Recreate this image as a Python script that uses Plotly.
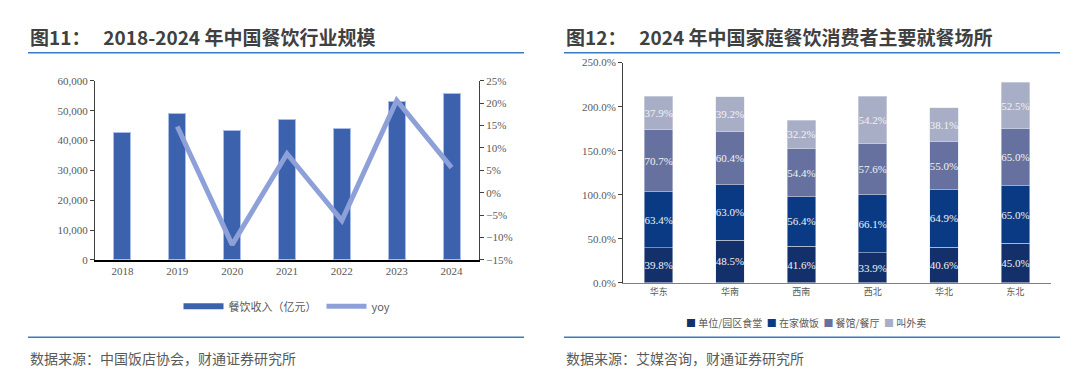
import plotly.graph_objects as go

W, H = 1080, 376

# ---- Data: left chart ----
years = ["2018", "2019", "2020", "2021", "2022", "2023", "2024"]
revenue = [42700, 49000, 43200, 46900, 43900, 52900, 55700]
yoy = [None, 14.8, -11.6, 8.7, -6.2, 20.6, 5.6]

# ---- Data: right chart ----
regions = ["华东", "华南", "西南", "西北", "华北", "东北"]
canteen = [39.8, 48.5, 41.6, 33.9, 40.6, 45.0]
home = [63.4, 63.0, 56.4, 66.1, 64.9, 65.0]
restaurant = [70.7, 60.4, 54.4, 57.6, 55.0, 65.0]
takeout = [37.9, 39.2, 32.2, 54.2, 38.1, 52.5]
series_names = ["单位/园区食堂", "在家做饭", "餐馆/餐厅", "叫外卖"]
series_colors = ["#13306a", "#0a3a84", "#66719f", "#a8aec6"]

SERIF = "Liberation Serif"
CJK = "Noto Sans CJK SC"
TICKC = "#595959"

def px(x):
    return x / W

def py(y):
    return 1 - y / H

fig = go.Figure()

# Left chart
fig.add_trace(go.Bar(
    x=years, y=revenue, name="餐饮收入（亿元）", marker=dict(color="#3c62ae", line=dict(color="#a8bde8", width=1)),
    width=0.31, xaxis="x", yaxis="y", showlegend=False,
))
fig.add_trace(go.Scatter(
    x=[None], y=[None], mode="lines", name="餐饮收入（亿元）",
    line=dict(color="#3c62ae", width=6), xaxis="x", yaxis="y", legend="legend",
))
fig.add_trace(go.Scatter(
    x=years, y=yoy, mode="lines", name="yoy",
    line=dict(color="#8ea0d8", width=5), xaxis="x", yaxis="y2", legend="legend",
    connectgaps=False,
))

# Right chart
for name, vals, col in zip(series_names, [canteen, home, restaurant, takeout], series_colors):
    fig.add_trace(go.Bar(
        x=regions, y=vals, name=name, marker=dict(color=col, line=dict(color="#dfe3ee", width=0.5)),
        width=0.4, xaxis="x3", yaxis="y3", showlegend=False,
        text=[f"{v:.1f}%" for v in vals], textposition="inside", insidetextanchor="middle",
        textfont=dict(family=SERIF, size=11, color="#f2f2f2"), textangle=0,
        constraintext="none", cliponaxis=False,
    ))

fig.update_layout(
    width=W, height=H, margin=dict(l=0, r=0, t=0, b=0),
    paper_bgcolor="white", plot_bgcolor="white",
    barmode="stack", bargap=0.6,
    xaxis=dict(domain=[px(87), px(471)], anchor="y", type="category",
               showline=True, linecolor="#000000", linewidth=2, ticks="",
               tickfont=dict(family=SERIF, size=11, color=TICKC), showgrid=False),
    yaxis=dict(domain=[py(254), py(69)], anchor="x", range=[0, 60000], dtick=10000,
               tickformat=",", showline=True, linecolor="#404040", linewidth=1,
               ticks="outside", ticklen=4, tickcolor="#404040", showgrid=False, zeroline=False,
               tickfont=dict(family=SERIF, size=11, color=TICKC)),
    yaxis2=dict(overlaying="y", side="right", anchor="x", range=[-15, 25], dtick=5,
                ticksuffix="%", showline=True, linecolor="#404040", linewidth=1,
                ticks="outside", ticklen=4, tickcolor="#404040", showgrid=False, zeroline=False,
                tickfont=dict(family=SERIF, size=11, color=TICKC)),
    xaxis3=dict(domain=[px(615), px(1043)], anchor="y3", type="category",
                showline=True, linecolor="#808080", linewidth=1, ticks="",
                tickfont=dict(family=CJK, size=9, color=TICKC), showgrid=False),
    yaxis3=dict(domain=[py(277.7), py(50.2)], anchor="x3", range=[0, 250], dtick=50,
                tickformat=".1f", ticksuffix="%", showline=True, linecolor="#404040", linewidth=1,
                ticks="outside", ticklen=4, tickcolor="#404040", showgrid=False, zeroline=False,
                tickfont=dict(family=SERIF, size=11, color=TICKC)),
    legend=dict(orientation="h", x=px(279), y=py(302), xanchor="center", yanchor="middle",
                font=dict(family=CJK, size=11, color=TICKC), itemwidth=40,
                bgcolor="rgba(0,0,0,0)", traceorder="normal"),
    font=dict(family=CJK),
)

# Manual compact legend for the right chart
legend_html = "  ".join(
    f"<span style='color:{c}'>■</span> {n}" for n, c in zip(series_names, series_colors)
)
fig.add_annotation(text=legend_html, x=px(798), y=py(319), xref="paper", yref="paper",
                   xanchor="center", yanchor="middle", showarrow=False,
                   font=dict(family=CJK, size=10, color=TICKC))

# Titles, rules, sources
title_font = dict(family=CJK, size=19, color="#404040")
fig.add_annotation(text="<b>图11：   2018-2024 年中国餐饮行业规模</b>", x=px(20), y=py(23),
                   xref="paper", yref="paper", xanchor="left", yanchor="middle",
                   showarrow=False, font=title_font)
fig.add_annotation(text="<b>图12：   2024 年中国家庭餐饮消费者主要就餐场所</b>", x=px(556), y=py(23),
                   xref="paper", yref="paper", xanchor="left", yanchor="middle",
                   showarrow=False, font=title_font)
src_font = dict(family=CJK, size=14, color="#595959")
fig.add_annotation(text="数据来源：中国饭店协会，财通证券研究所", x=px(20), y=py(355),
                   xref="paper", yref="paper", xanchor="left", yanchor="middle",
                   showarrow=False, font=src_font)
fig.add_annotation(text="数据来源：艾媒咨询，财通证券研究所", x=px(556), y=py(355),
                   xref="paper", yref="paper", xanchor="left", yanchor="middle",
                   showarrow=False, font=src_font)

line_col = "#3a7ac0"
for x0, x1 in [(20, 516), (556, 1052)]:
    for yy in [40, 334]:
        fig.add_shape(type="line", xref="paper", yref="paper",
                      x0=px(x0), x1=px(x1), y0=py(yy), y1=py(yy),
                      line=dict(color=line_col, width=1.5))

fig.write_html("out.html")
